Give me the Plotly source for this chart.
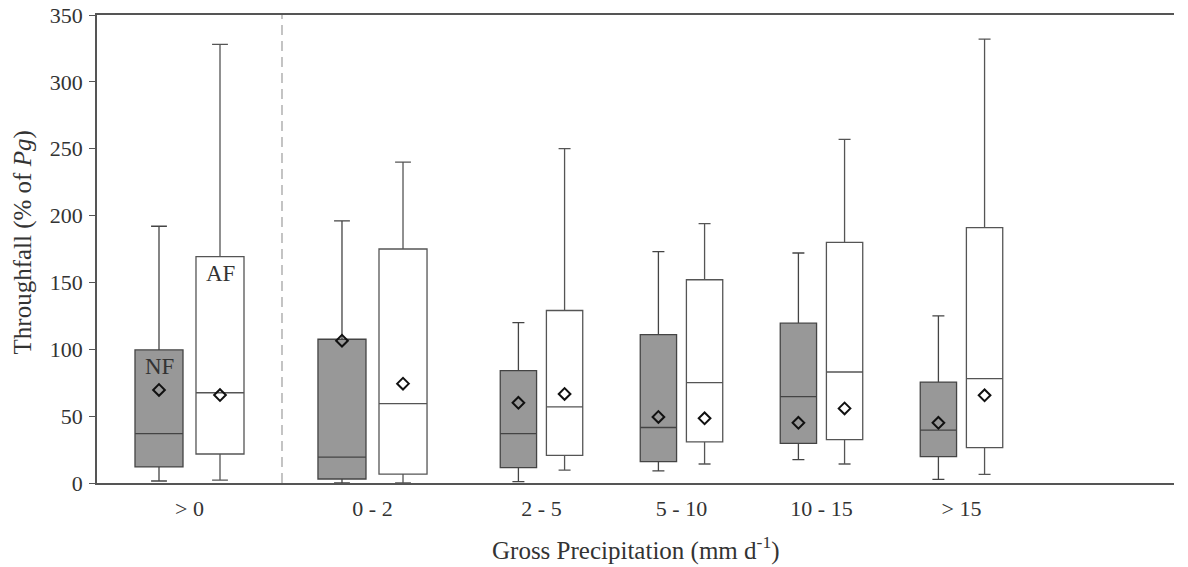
import plotly.graph_objects as go

# ---- data ----
categories = ["> 0", "0 - 2", "2 - 5", "5 - 10", "10 - 15", "> 15"]

nf_low = [1.5, 0, 1, 9, 17.5, 2.7]
nf_q1 = [12, 3, 11.5, 16, 29.7, 19.7]
nf_med = [37, 19.4, 37, 41.5, 64.6, 39.6]
nf_q3 = [99.5, 107.5, 84, 111, 119.5, 75.5]
nf_high = [192, 196, 120, 173, 172, 125]
nf_mean = [69.6, 106.4, 60, 49.4, 45, 45]

af_low = [2.2, 0, 9.7, 14.2, 14.2, 6.5]
af_q1 = [21.7, 6.7, 20.7, 30.7, 32.4, 26.4]
af_med = [67.5, 59.3, 57, 75, 83, 78]
af_q3 = [169.3, 175, 129, 152, 180, 191]
af_high = [328, 240, 250, 194, 257, 332]
af_mean = [65.8, 74.3, 66.6, 48.4, 55.8, 65.6]

y_ticks = [0, 50, 100, 150, 200, 250, 300, 350]

# ---- layout grouping (panels) ----
segments = [(0, 1), (1, 2), (2, 6)]
axis_ids = ["x", "x2", "x3"]
domains = [[0, 0.17177], [0.17177, 0.33983], [0.33983, 1.0]]
ranges = [[-0.5, 0.5], [-0.489, 0.489], [-0.5607, 4.518]]

FONT = "Liberation Serif"
AXC = "#555555"
TXT = "#333333"
fig = go.Figure()

for (a, b), xid in zip(segments, axis_ids):
    cats = categories[a:b]
    fig.add_trace(go.Box(
        x=cats, q1=nf_q1[a:b], median=nf_med[a:b], q3=nf_q3[a:b],
        lowerfence=nf_low[a:b], upperfence=nf_high[a:b],
        name="NF", offsetgroup="NF", alignmentgroup="g",
        fillcolor="#989898", line=dict(color="#444444", width=1.3),
        whiskerwidth=0.33, boxpoints=False, showlegend=False,
        xaxis=xid, yaxis="y", hoverinfo="skip"))
    fig.add_trace(go.Box(
        x=cats, q1=af_q1[a:b], median=af_med[a:b], q3=af_q3[a:b],
        lowerfence=af_low[a:b], upperfence=af_high[a:b],
        name="AF", offsetgroup="AF", alignmentgroup="g",
        fillcolor="white", line=dict(color="#555555", width=1.3),
        whiskerwidth=0.33, boxpoints=False, showlegend=False,
        xaxis=xid, yaxis="y", hoverinfo="skip"))
    fig.add_trace(go.Scatter(
        x=cats, y=nf_mean[a:b], mode="markers", offsetgroup="NF", alignmentgroup="g",
        marker=dict(symbol="diamond-open", size=9, color="#111111", line=dict(width=2, color="#111111")),
        showlegend=False, xaxis=xid, yaxis="y", hoverinfo="skip"))
    fig.add_trace(go.Scatter(
        x=cats, y=af_mean[a:b], mode="markers", offsetgroup="AF", alignmentgroup="g",
        marker=dict(symbol="diamond-open", size=9, color="#111111", line=dict(width=2, color="#111111")),
        showlegend=False, xaxis=xid, yaxis="y", hoverinfo="skip"))

xaxis_common = dict(type="category", showline=True, linecolor=AXC, linewidth=1.5,
                    mirror=True, ticks="", showgrid=False, zeroline=False,
                    tickfont=dict(family=FONT, size=22, color=TXT), anchor="y",
                    ticklabelstandoff=5, automargin=False, fixedrange=True)

layout_axes = {}
for i, (xid, dom, rng) in enumerate(zip(axis_ids, domains, ranges)):
    key = "xaxis" if i == 0 else "xaxis%d" % (i + 1)
    layout_axes[key] = dict(xaxis_common, domain=dom, range=rng)

fig.update_layout(
    width=1188, height=567,
    margin=dict(l=97, r=14, t=15, b=84),
    paper_bgcolor="white", plot_bgcolor="white",
    boxmode="group", boxgap=0.3405, boxgroupgap=0.213,
    scattermode="group", scattergap=0.3405,
    font=dict(family=FONT, color=TXT),
    yaxis=dict(range=[0, 350], tickvals=y_ticks, ticks="outside", ticklen=6,
               tickcolor=AXC, showline=True, linecolor=AXC, linewidth=1.5,
               showgrid=False, zeroline=False, anchor="x", automargin=False,
               ticklabelstandoff=2, fixedrange=True,
               tickfont=dict(family=FONT, size=22, color=TXT)),
    **layout_axes,
)

# dashed separator between "> 0" and the classes
fig.add_shape(type="line", xref="paper", yref="paper", x0=domains[0][1], x1=domains[0][1],
              y0=0, y1=1, line=dict(color="#b0b0b0", width=1.5, dash="10px,6px"))

# NF / AF labels
fig.add_annotation(x=categories[0], y=87, xref="x", yref="y", text="NF", showarrow=False,
                   xshift=-30.5, font=dict(family=FONT, size=23, color=TXT))
fig.add_annotation(x=categories[0], y=157, xref="x", yref="y", text="AF", showarrow=False,
                   xshift=30.5, font=dict(family=FONT, size=23, color=TXT))

# axis titles
fig.add_annotation(x=0.5, y=-0.141, xref="paper", yref="paper", yanchor="middle",
                   text="Gross Precipitation (mm d<sup>-1</sup>)", showarrow=False,
                   font=dict(family=FONT, size=25, color=TXT))
fig.add_annotation(x=-0.0687, y=0.514, xref="paper", yref="paper", xanchor="center",
                   yanchor="middle", textangle=-90,
                   text="Throughfall (% of <i>Pg</i>)", showarrow=False,
                   font=dict(family=FONT, size=25, color=TXT))

fig.write_html("out.html", config={"displayModeBar": False},
               post_script="document.body.style.margin='0';")
